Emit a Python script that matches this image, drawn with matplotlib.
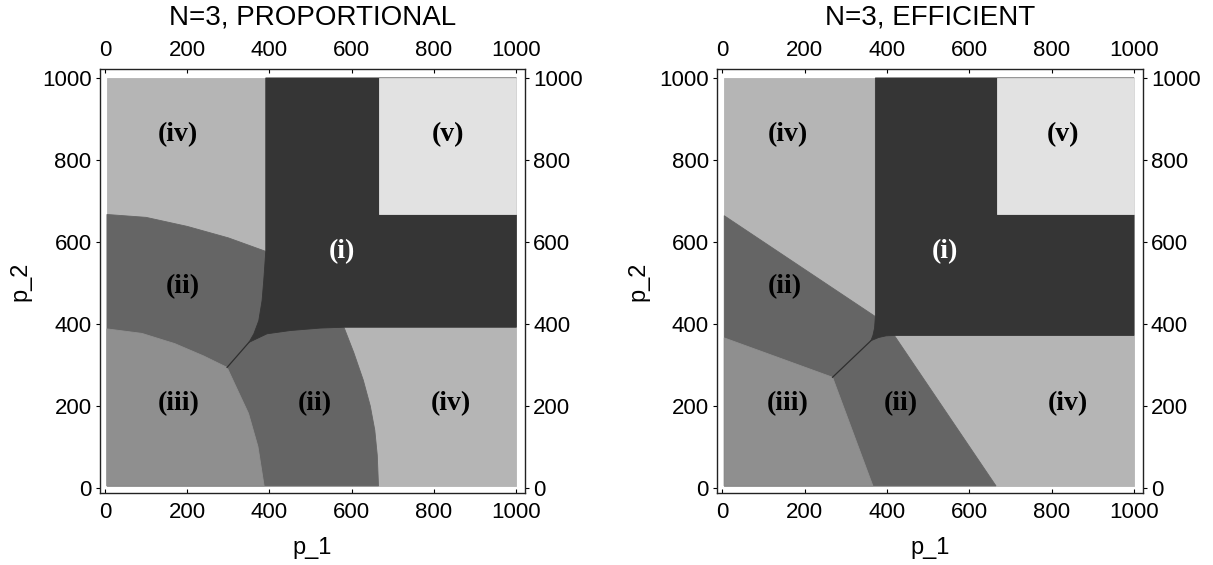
import matplotlib.pyplot as plt

plt.rcParams["font.family"] = ["Liberation Sans", "DejaVu Sans"]

# grey level of each region, (i) darkest .. (v) lightest
C_I, C_II, C_III, C_IV, C_V = "#353535", "#656565", "#8f8f8f", "#b5b5b5", "#e2e2e2"

# extent of the sampled square and the axis ticks
P_MIN, P_MAX = 5, 1000
TICKS = [0, 200, 400, 600, 800, 1000]

region_labels = ["(iv)", "(v)", "(i)", "(ii)", "(iii)", "(ii)", "(iv)"]

# ---- N=3, PROPORTIONAL ----
prop_split_i = 391   # left edge of (i) beside the upper (iv)
prop_split_v = 667   # edges of (v)
prop_floor_i = 392   # lower edge of (i) beside the lower (iv)
prop_iv_up_x = [5, 100, 200, 300, 391]
prop_iv_up_y = [667, 660, 638, 610, 577]
prop_iv_lo_x = [581, 605, 628, 645, 656, 662, 665]
prop_iv_lo_y = [392, 330, 263, 200, 141, 80, 5]
prop_i_left_x = [391, 386, 382, 374, 362, 350]
prop_i_left_y = [577, 505, 457, 408, 376, 355]
prop_i_low_x = [350, 394, 451, 524, 581]
prop_i_low_y = [355, 376, 384, 390, 392]
prop_iii_x = [5, 90, 170, 240, 297, 322, 349, 372, 387]
prop_iii_y = [388, 377, 352, 322, 294, 240, 182, 101, 5]
prop_seam_x = [350, 297]
prop_seam_y = [355, 294]
prop_label_x = [177, 833, 575, 189, 180, 509, 842]
prop_label_y = [863, 863, 577, 491, 206, 206, 206]

# ---- N=3, EFFICIENT ----
eff_split_i = 372
eff_split_v = 667
eff_floor_i = 372
eff_iv_up_x = [5, 372]
eff_iv_up_y = [664, 418]
eff_iv_lo_x = [418, 665]
eff_iv_lo_y = [372, 5]
eff_i_left_x = [372, 370, 366, 361]
eff_i_left_y = [418, 390, 372, 359]
eff_i_low_x = [361, 380, 398, 418]
eff_i_low_y = [359, 367, 371, 372]
eff_iii_x = [5, 268, 366]
eff_iii_y = [366, 270, 5]
eff_seam_x = [361, 268]
eff_seam_y = [359, 270]
eff_label_x = [160, 828, 540, 151, 160, 434, 839]
eff_label_y = [863, 863, 577, 491, 206, 206, 206]


def patch(ax, xs, ys, color):
    ax.fill(xs, ys, facecolor=color, edgecolor=color, linewidth=0.6, zorder=1)


def draw_panel(ax, title, d):
    # background region (iv), then layers on top of it
    patch(ax, [P_MIN, P_MAX, P_MAX, P_MIN], [P_MIN, P_MIN, P_MAX, P_MAX], C_IV)
    patch(ax, [P_MIN] + d["iv_up_x"] + d["iv_lo_x"] + [P_MIN],
          [P_MIN] + d["iv_up_y"] + d["iv_lo_y"] + [P_MIN], C_II)
    patch(ax, [P_MIN] + d["iii_x"], [P_MIN] + d["iii_y"], C_III)
    patch(ax, [d["split_i"], P_MAX, P_MAX] + d["i_low_x"][::-1] + d["i_left_x"][::-1],
          [P_MAX, P_MAX, d["floor_i"]] + d["i_low_y"][::-1] + d["i_left_y"][::-1], C_I)
    patch(ax, [d["split_v"], P_MAX, P_MAX, d["split_v"]],
          [d["split_v"], d["split_v"], P_MAX, P_MAX], C_V)
    ax.plot(d["seam_x"], d["seam_y"], color="#2e2e2e", linewidth=0.9, zorder=2)

    for lab, x, y in zip(region_labels, d["label_x"], d["label_y"]):
        ax.text(x, y, lab, ha="center", va="center", fontsize=20, fontweight="bold",
                family=["Liberation Serif", "DejaVu Serif"],
                color="white" if lab == "(i)" else "black", zorder=3)

    ax.set_xlim(-12, 1021)
    ax.set_ylim(-13, 1021)
    ax.set_xticks(TICKS)
    ax.set_yticks(TICKS)
    ax.tick_params(axis="x", direction="in", length=3, pad=6, labelsize=16,
                   top=True, labeltop=True)
    ax.tick_params(axis="y", direction="out", length=3, pad=3, labelsize=16,
                   right=True, labelright=True)
    for sp in ax.spines.values():
        sp.set_linewidth(1.0)
        sp.set_color("#222222")

    ax.text(0.5, 1.122, title, transform=ax.transAxes, ha="center", va="center", fontsize=20)
    ax.text(0.5, -0.13, "p_1", transform=ax.transAxes, ha="center", va="center", fontsize=17)
    ax.text(-0.186, 0.5, "p_2", transform=ax.transAxes, ha="center", va="center",
            rotation=90, fontsize=17)


prop = dict(split_i=prop_split_i, split_v=prop_split_v, floor_i=prop_floor_i,
            iv_up_x=prop_iv_up_x, iv_up_y=prop_iv_up_y, iv_lo_x=prop_iv_lo_x, iv_lo_y=prop_iv_lo_y,
            i_left_x=prop_i_left_x, i_left_y=prop_i_left_y, i_low_x=prop_i_low_x, i_low_y=prop_i_low_y,
            iii_x=prop_iii_x, iii_y=prop_iii_y, seam_x=prop_seam_x, seam_y=prop_seam_y,
            label_x=prop_label_x, label_y=prop_label_y)
eff = dict(split_i=eff_split_i, split_v=eff_split_v, floor_i=eff_floor_i,
           iv_up_x=eff_iv_up_x, iv_up_y=eff_iv_up_y, iv_lo_x=eff_iv_lo_x, iv_lo_y=eff_iv_lo_y,
           i_left_x=eff_i_left_x, i_left_y=eff_i_left_y, i_low_x=eff_i_low_x, i_low_y=eff_i_low_y,
           iii_x=eff_iii_x, iii_y=eff_iii_y, seam_x=eff_seam_x, seam_y=eff_seam_y,
           label_x=eff_label_x, label_y=eff_label_y)

fig = plt.figure(figsize=(12.13, 5.65), dpi=100)
ax1 = fig.add_axes([0.0824, 0.1269, 0.3504, 0.7504])
ax2 = fig.add_axes([0.5913, 0.1269, 0.3507, 0.7504])
draw_panel(ax1, "N=3, PROPORTIONAL", prop)
draw_panel(ax2, "N=3, EFFICIENT", eff)

fig.savefig("out.png", dpi=100)
